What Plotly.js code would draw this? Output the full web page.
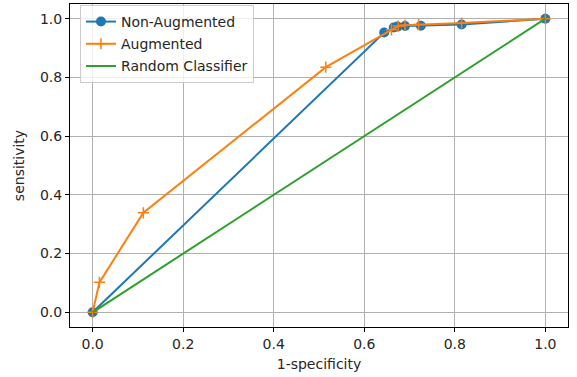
<!DOCTYPE html>
<html><head><meta charset="utf-8">
<script src="https://cdn.plot.ly/plotly-3.0.1.min.js"></script>
<style>body{margin:0;padding:0;background:#fff}#chart{width:577px;height:377px}</style>
</head><body><div id="chart"></div>
<script>
const nonAugX = [0, 0.644, 0.665, 0.673, 0.690, 0.725, 0.815, 1.0];
const nonAugY = [0, 0.953, 0.970, 0.973, 0.975, 0.976, 0.980, 1.0];
const augX = [0, 0.015, 0.112, 0.515, 0.660, 0.675, 0.690, 0.720, 0.815, 1.0];
const augY = [0, 0.102, 0.339, 0.835, 0.962, 0.975, 0.978, 0.980, 0.985, 1.0];
const randX = [0, 1];
const randY = [0, 1];
const ticks = [0, 0.2, 0.4, 0.6, 0.8, 1.0];
const tickLabels = ['0.0', '0.2', '0.4', '0.6', '0.8', '1.0'];

const font = {family: 'DejaVu Sans, sans-serif', size: 14, color: '#262626'};
const traces = [
  {x: nonAugX, y: nonAugY, name: 'Non-Augmented', mode: 'lines+markers', legendgroup: 'a',
   line: {color: '#1f77b4', width: 2}, marker: {color: '#1f77b4', size: 10, symbol: 'circle'}},
  {x: augX, y: augY, name: 'Augmented', mode: 'lines+markers', legendgroup: 'b',
   line: {color: '#ff7f0e', width: 2}, marker: {color: '#ff7f0e', size: 8, symbol: 'cross-thin', line: {color: '#ff7f0e', width: 1.5}}},
  {x: randX, y: randY, name: 'Random Classifier', mode: 'lines', legendgroup: 'c',
   line: {color: '#2ca02c', width: 2}}
];
const axisCommon = {
  range: [-0.05, 1.05], tickvals: ticks, ticktext: tickLabels,
  showgrid: true, gridcolor: '#b0b0b0', gridwidth: 1,
  showline: true, linecolor: '#000', linewidth: 1, mirror: true,
  ticks: 'outside', ticklen: 4, tickcolor: '#000', zeroline: false,
  tickfont: font
};
const layout = {
  width: 577, height: 377,
  margin: {l: 70, r: 9, t: 4, b: 50},
  paper_bgcolor: '#fff', plot_bgcolor: '#fff',
  font: font,
  showlegend: true,
  xaxis: Object.assign({}, axisCommon, {title: {text: '1-specificity', font: font, standoff: 8}}),
  yaxis: Object.assign({}, axisCommon, {title: {text: 'sensitivity', font: font, standoff: 12}}),
  legend: {x: 0.02, y: 0.997, xanchor: 'left', yanchor: 'top',
    bgcolor: 'rgba(255,255,255,0.8)', bordercolor: '#cccccc', borderwidth: 1,
    font: font, traceorder: 'grouped', tracegroupgap: 1}
};
Plotly.newPlot('chart', traces, layout, {displayModeBar: false, staticPlot: true});
</script></body></html>
